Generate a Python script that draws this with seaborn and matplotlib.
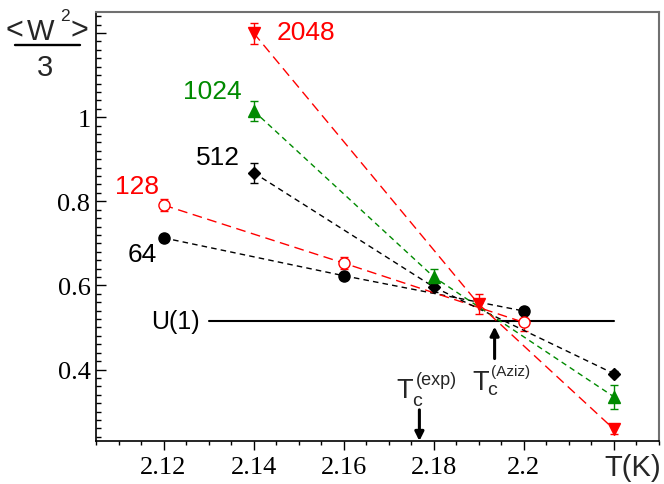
import matplotlib
matplotlib.use("Agg")
import matplotlib.pyplot as plt
import numpy as np
import pandas as pd
import seaborn as sns
from matplotlib.ticker import FixedLocator, MultipleLocator
from matplotlib.lines import Line2D

# Lattice sizes and winding-number estimates <W^2>/3 versus temperature
t_64 = [2.12, 2.16, 2.20]
w_64 = [0.713, 0.623, 0.539]
e_64 = [0.004, 0.004, 0.004]

t_128 = [2.12, 2.16, 2.20]
w_128 = [0.791, 0.653, 0.512]
e_128 = [0.014, 0.014, 0.021]

t_512 = [2.14, 2.18, 2.22]
w_512 = [0.868, 0.596, 0.390]
e_512 = [0.024, 0.012, 0.006]

t_1024 = [2.14, 2.18, 2.22]
w_1024 = [1.015, 0.620, 0.335]
e_1024 = [0.024, 0.020, 0.028]

t_2048 = [2.14, 2.19, 2.22]
w_2048 = [1.200, 0.555, 0.258]
e_2048 = [0.025, 0.024, 0.011]

u1_level = 0.516
tc_exp = 2.1768
tc_aziz = 2.1935

x_ticks = [2.12, 2.14, 2.16, 2.18, 2.20, 2.22]
x_ticklabels = ["2.12", "2.14", "2.16", "2.18", "2.2", ""]
y_ticks = [0.4, 0.6, 0.8, 1.0, 1.2]
y_ticklabels = ["0.4", "0.6", "0.8", "1", ""]

RED = "#ff0000"
GREEN = "#008a00"
BLACK = "#000000"

series = [
    # name, T, W, err, color, marker, face, marker size, dash pattern
    ("64", t_64, w_64, e_64, BLACK, "o", BLACK, 8, (4, 3)),
    ("128", t_128, w_128, e_128, RED, "o", "white", 8, (7, 4)),
    ("512", t_512, w_512, e_512, BLACK, "D", BLACK, 6.5, (4, 3)),
    ("1024", t_1024, w_1024, e_1024, GREEN, "^", GREEN, 9, (4, 3)),
    ("2048", t_2048, w_2048, e_2048, RED, "v", RED, 9, (7, 4)),
]

W_PX, H_PX = 664, 485


def fig_xy(x, y):
    """Pixel position (from top-left) to figure fraction."""
    return x / W_PX, 1 - y / H_PX


sns.set_theme(style="white")
plt.rcParams["font.family"] = ["Liberation Sans", "DejaVu Sans"]

fig = plt.figure(figsize=(6.64, 4.85), dpi=100)
ax = fig.add_axes([96 / W_PX, 43 / H_PX, 563 / W_PX, 429 / H_PX])

for name, t, w, e, col, mk, face, ms, dash in series:
    df = pd.DataFrame({"T": t, "W": w})
    sns.lineplot(data=df, x="T", y="W", ax=ax, color=col,
                 linestyle=(0, dash), linewidth=1.0, errorbar=None,
                 marker=mk, markersize=ms, markerfacecolor=face,
                 markeredgecolor=col, markeredgewidth=1.0, zorder=3)
    ax.errorbar(t, w, yerr=e, fmt="none", ecolor=col, elinewidth=1.0,
                capsize=3, capthick=1.0, zorder=2)

# U(1) reference level
ax.plot([2.13, 2.22], [u1_level, u1_level], color="black", lw=1.5, zorder=1)

ax.set_xlim(2.105, 2.23)
ax.set_ylim(0.23, 1.25)
ax.set_xlabel("")
ax.set_ylabel("")

ax.xaxis.set_major_locator(FixedLocator(x_ticks))
ax.set_xticklabels(x_ticklabels)
ax.xaxis.set_minor_locator(MultipleLocator(0.005))
ax.yaxis.set_major_locator(FixedLocator(y_ticks))
ax.set_yticklabels(y_ticklabels)
ax.yaxis.set_minor_locator(MultipleLocator(0.02))

ax.tick_params(axis="x", which="major", direction="out", length=6.5, width=1.0,
               pad=4, labelsize=19, colors="black", bottom=True, top=False)
ax.tick_params(axis="x", which="minor", direction="out", length=3, width=1.0,
               bottom=True, top=False, colors="black")
ax.tick_params(axis="y", which="major", direction="in", length=7, width=1.0,
               pad=4, labelsize=19, left=True, right=False, colors="black")
ax.tick_params(axis="y", which="minor", direction="in", length=3.5, width=1.0,
               left=True, right=False, colors="black")
for lab in ax.get_xticklabels() + ax.get_yticklabels():
    lab.set_fontfamily("Liberation Serif")

for side in ("left", "bottom"):
    ax.spines[side].set_color("black")
    ax.spines[side].set_linewidth(1.2)
for side in ("top", "right"):
    ax.spines[side].set_color("#707070")
    ax.spines[side].set_linewidth(1.5)

# Size labels
ax.text(2.145, 1.202, "2048", color=RED, fontsize=19, ha="left", va="center")
ax.text(2.1373, 1.063, "1024", color=GREEN, fontsize=19, ha="right", va="center")
ax.text(2.137, 0.905, "512", color=BLACK, fontsize=19, ha="right", va="center")
ax.text(2.1189, 0.837, "128", color=RED, fontsize=19, ha="right", va="center")
ax.text(2.1185, 0.675, "64", color=BLACK, fontsize=19, ha="right", va="center")
ax.text(2.1281, u1_level, "U(1)", color=BLACK, fontsize=18, ha="right", va="center")

# Critical temperature labels: T with subscript c and a superscript tag
fig.text(*fig_xy(396, 398.5), "T", fontsize=19.5, ha="left", va="baseline")
fig.text(*fig_xy(412.5, 406), "c", fontsize=14, ha="left", va="baseline")
fig.text(*fig_xy(416, 385), "(exp)", fontsize=13, ha="left", va="baseline")
fig.text(*fig_xy(472, 389.5), "T", fontsize=19.5, ha="left", va="baseline")
fig.text(*fig_xy(487.5, 395.5), "c", fontsize=14, ha="left", va="baseline")
fig.text(*fig_xy(491, 376.5), "(Aziz)", fontsize=11, ha="left", va="baseline")

ax.annotate("", xy=(tc_exp, 0.23), xytext=(tc_exp, 0.304),
            arrowprops=dict(arrowstyle="-|>", color="black", lw=2.2,
                            mutation_scale=13, shrinkA=0, shrinkB=0))
ax.annotate("", xy=(tc_aziz, 0.502), xytext=(tc_aziz, 0.426),
            arrowprops=dict(arrowstyle="-|>", color="black", lw=2.2,
                            mutation_scale=13, shrinkA=0, shrinkB=0))

# Axis titles
fig.text(*fig_xy(604, 468), "T(K)", fontsize=21, ha="left", va="center")
# y title drawn as a fraction  <W^2> / 3
fig.text(*fig_xy(14.5, 39.5), "<", fontsize=22, ha="center", va="baseline")
fig.text(*fig_xy(40.5, 39.5), "W", fontsize=21, ha="center", va="baseline")
fig.text(*fig_xy(64.5, 20.7), "2", fontsize=12.5, ha="center", va="baseline")
fig.text(*fig_xy(79.5, 39.5), ">", fontsize=22, ha="center", va="baseline")
fig.text(*fig_xy(45, 76), "3", fontsize=21, ha="center", va="baseline")
fig.add_artist(Line2D([15 / W_PX, 80 / W_PX], [1 - 45.5 / H_PX, 1 - 45.5 / H_PX],
                      color="black", lw=1.7, transform=fig.transFigure))

fig.savefig("out.png", dpi=100)
